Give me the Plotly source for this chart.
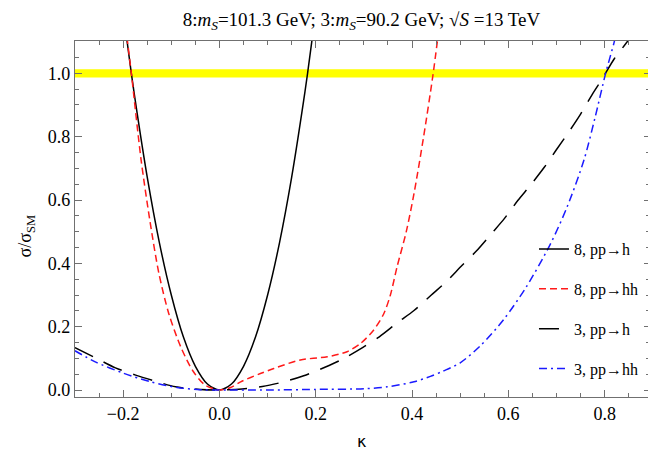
import plotly.graph_objects as go

# ---- data ----
kappa_8h = [-0.197, -0.183, -0.175, -0.15, -0.125, -0.1, -0.075, -0.05, -0.025, 0.0,
            0.025, 0.05, 0.075, 0.1, 0.125, 0.15, 0.175, 0.183, 0.197]
sigma_8h = [1.16, 1.0, 0.915, 0.672, 0.467, 0.30, 0.168, 0.075, 0.019, 0.0,
            0.019, 0.075, 0.168, 0.30, 0.467, 0.672, 0.915, 1.0, 1.16]

kappa_8hh = [-0.195, -0.183, -0.163, -0.145, -0.126, -0.105, -0.08, -0.055, -0.03, 0.0,
             0.023, 0.044, 0.085, 0.113, 0.168, 0.224, 0.265, 0.293, 0.32, 0.341,
             0.355, 0.369, 0.388, 0.404, 0.424, 0.443, 0.455]
sigma_8hh = [1.15, 1.0, 0.73, 0.54, 0.37, 0.24, 0.135, 0.06, 0.016, 0.0,
             0.008, 0.026, 0.052, 0.068, 0.095, 0.105, 0.121, 0.147, 0.189, 0.24,
             0.30, 0.39, 0.50, 0.62, 0.80, 0.99, 1.13]

kappa_3h = [-0.3, -0.258, -0.216, -0.174, -0.129, -0.091, -0.04, 0.0, 0.047, 0.089,
            0.134, 0.175, 0.219, 0.255, 0.298, 0.332, 0.370, 0.404, 0.44, 0.471,
            0.504, 0.533, 0.565, 0.592, 0.620, 0.646, 0.675, 0.699, 0.727, 0.750,
            0.774, 0.795, 0.820, 0.848, 0.86]
sigma_3h = [0.134, 0.102, 0.070, 0.047, 0.026, 0.010, 0.002, 0.0, 0.003, 0.011,
            0.026, 0.045, 0.072, 0.097, 0.135, 0.168, 0.213, 0.251, 0.30, 0.342,
            0.394, 0.438, 0.494, 0.542, 0.599, 0.647, 0.704, 0.757, 0.818, 0.871,
            0.933, 0.983, 1.046, 1.102, 1.13]

kappa_3hh = [-0.3, -0.258, -0.199, -0.143, -0.088, -0.04, 0.0, 0.1, 0.2, 0.3,
             0.348, 0.404, 0.438, 0.465, 0.5, 0.542, 0.59, 0.637, 0.687, 0.722,
             0.757, 0.78, 0.802, 0.82, 0.83]
sigma_3hh = [0.124, 0.089, 0.053, 0.026, 0.008, 0.001, 0.0, 0.0, 0.002, 0.004,
             0.010, 0.026, 0.043, 0.060, 0.086, 0.140, 0.222, 0.325, 0.46, 0.578,
             0.726, 0.86, 1.0, 1.1, 1.17]

names = ["8, pp→h", "8, pp→hh", "3, pp→h", "3, pp→hh"]
x_ticks = [-0.2, 0.0, 0.2, 0.4, 0.6, 0.8]
y_ticks = [0.0, 0.2, 0.4, 0.6, 0.8, 1.0]
reference_level = 1.0

FONT = "Liberation Serif, Times New Roman, serif"
AX = "#707070"

fig = go.Figure()
series = [
    (kappa_8h, sigma_8h, names[0], dict(color="black", width=1.5, dash="solid")),
    (kappa_8hh, sigma_8hh, names[1], dict(color="#ff1a1a", width=1.5, dash="7px,4px")),
    (kappa_3h, sigma_3h, names[2], dict(color="black", width=1.5, dash="20px,12px")),
    (kappa_3hh, sigma_3hh, names[3], dict(color="#1a1aff", width=1.5, dash="8px,4px,2px,4px")),
]
for i, (xs, ys, nm, ln) in enumerate(series):
    fig.add_trace(go.Scatter(x=xs, y=ys, mode="lines", name=nm,
                             line=dict(shape="spline", smoothing=0.8, **ln),
                             legendgroup=f"g{i}"))

# empty trace to carry the right-hand tick axis
fig.add_trace(go.Scatter(x=[], y=[], yaxis="y2", showlegend=False, hoverinfo="skip"))

fig.add_shape(type="rect", xref="paper", x0=0, x1=1, yref="y",
              y0=reference_level - 0.013, y1=reference_level + 0.013,
              fillcolor="#ffff00", line=dict(width=0), layer="below")

fig.update_layout(
    width=648, height=450,
    margin=dict(l=75, r=0, t=41, b=53),
    paper_bgcolor="white", plot_bgcolor="white",
    font=dict(family=FONT, size=18, color="black"),
    title=dict(
        text="8:<i>m</i><sub><i>S</i></sub>=101.3 GeV; 3:<i>m</i><sub><i>S</i></sub>=90.2 GeV; √<i>S</i> =13 TeV",
        x=0.5, xref="paper", xanchor="center", y=1 - 19.5 / 450, yanchor="middle",
        font=dict(family=FONT, size=19, color="black")),
    showlegend=True,
    legend=dict(x=0.801, xanchor="left", y=0.463, yanchor="top",
                bgcolor="rgba(0,0,0,0)", borderwidth=0,
                traceorder="grouped", tracegroupgap=16,
                font=dict(family=FONT, size=16, color="black")),
    xaxis=dict(range=[-0.3, 0.89], tickvals=x_ticks, tickformat=".1f",
               showgrid=False, zeroline=False, showline=True, linecolor=AX, linewidth=1.3,
               mirror="ticks", ticks="inside", ticklen=7, tickcolor=AX, tickwidth=1,
               minor=dict(dtick=0.05, tick0=0, ticks="inside", ticklen=4, tickcolor=AX, showgrid=False),
               tickfont=dict(family=FONT, size=18, color="black")),
    yaxis=dict(range=[-0.022, 1.102], tickvals=y_ticks, tickformat=".1f",
               showgrid=False, zeroline=False, showline=True, linecolor=AX, linewidth=1.3,
               mirror=False, ticks="inside", ticklen=7, tickcolor=AX, tickwidth=1,
               minor=dict(dtick=0.05, tick0=0, ticks="inside", ticklen=4, tickcolor=AX, showgrid=False),
               tickfont=dict(family=FONT, size=18, color="black")),
    yaxis2=dict(range=[-0.022, 1.102], overlaying="y", side="right", tickvals=y_ticks,
                showticklabels=False, showgrid=False, zeroline=False, showline=False,
                ticks="inside", ticklen=4, tickcolor=AX,
                minor=dict(dtick=0.05, tick0=0, ticks="inside", ticklen=2, tickcolor=AX, showgrid=False)),
    annotations=[
        dict(text="σ/σ<sub>SM</sub>", xref="paper", yref="paper", x=-0.085, y=0.452,
             xanchor="center", yanchor="middle", textangle=-90, showarrow=False,
             font=dict(family=FONT, size=18, color="black")),
        dict(text="κ", xref="paper", yref="paper", x=0.501, y=-0.1255,
             xanchor="center", yanchor="middle", showarrow=False,
             font=dict(family="DejaVu Sans, sans-serif", size=16, color="black")),
    ],
)

fig.write_html("out.html")
